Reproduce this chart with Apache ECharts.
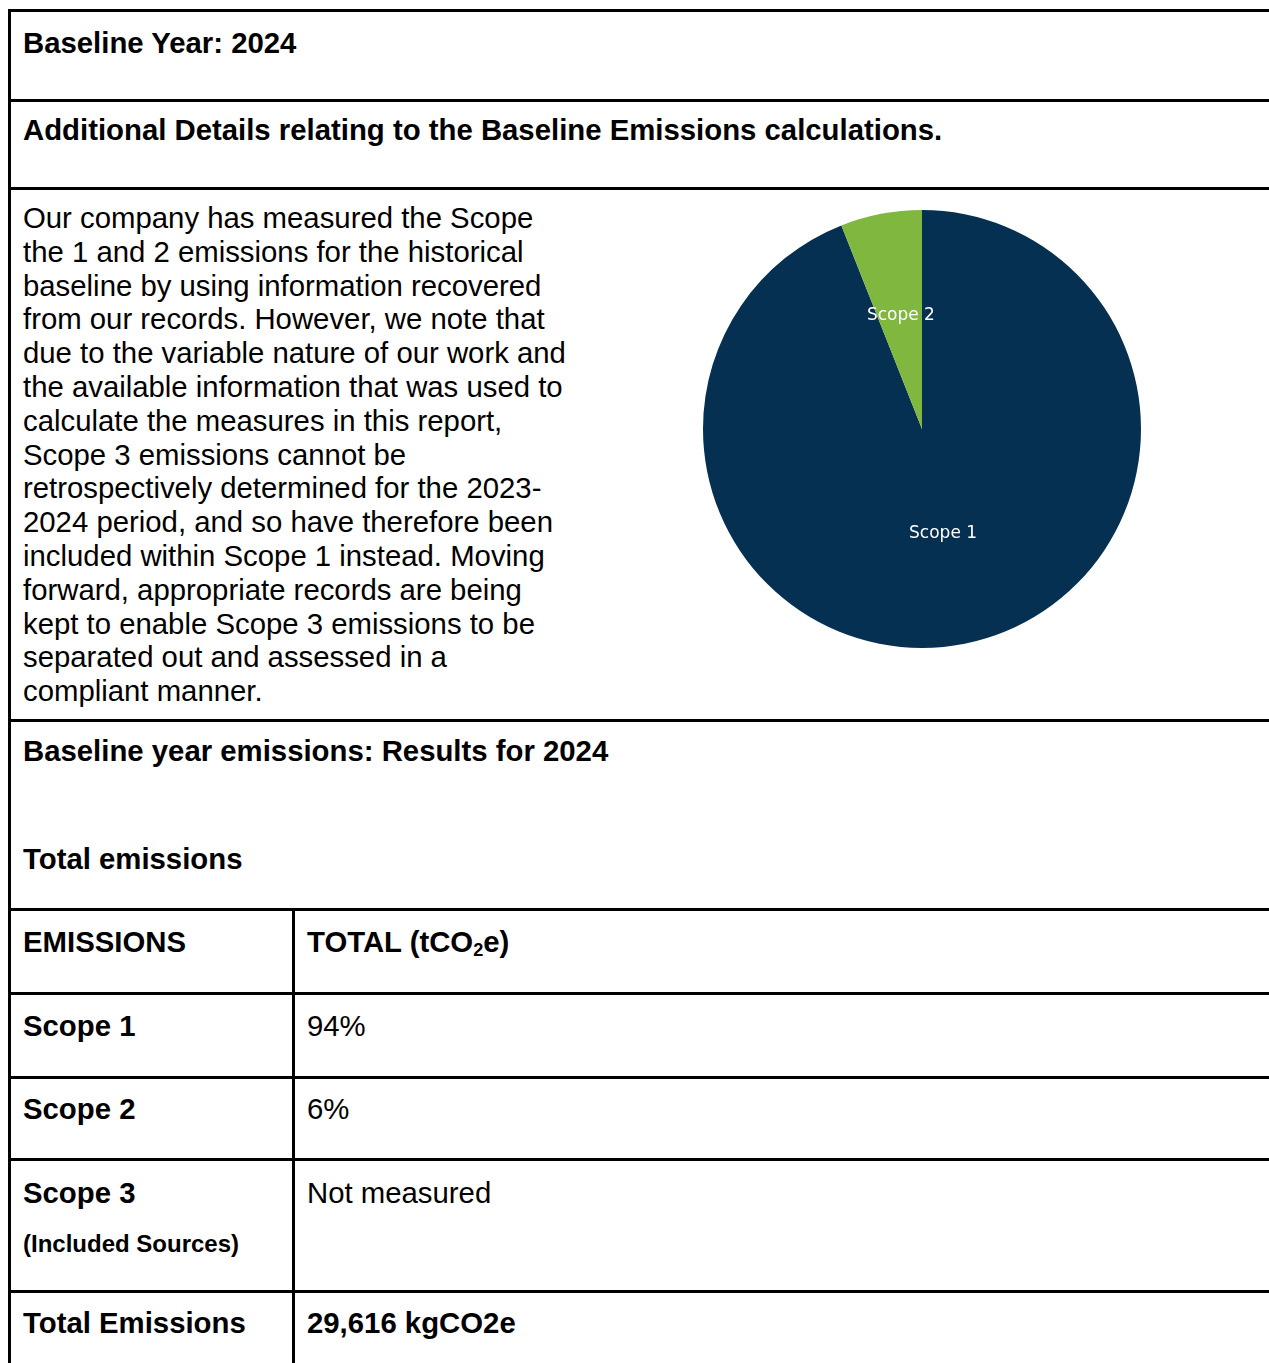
<!DOCTYPE html>
<html>
<head>
<meta charset="utf-8">
<script src="https://cdn.jsdelivr.net/npm/echarts@6/dist/echarts.min.js"></script>
<style>
  html, body { margin: 0; padding: 0; background: #ffffff; }
  #page { position: relative; width: 1269px; height: 1363px; overflow: hidden; background: #ffffff;
          font-family: "Liberation Sans", Arial, sans-serif; color: #000; }
  .hl { position: absolute; left: 8px; width: 1300px; height: 3px; background: #000; }
  .vl { position: absolute; width: 3px; background: #000; }
  .t { position: absolute; white-space: nowrap; font-size: 29.33px; line-height: 1; }
  .b { font-weight: bold; }
  #body { position: absolute; left: 23px; top: 201px; font-size: 29.33px; line-height: 33.8px; white-space: nowrap; }
  #pie { position: absolute; left: 680px; top: 190px; width: 490px; height: 490px; }
  .sub { font-size: 0.62em; position: relative; top: 0.22em; }
</style>
</head>
<body>
<div id="page">
  <div id="lines"></div>
  <div id="texts"></div>
  <div id="body"></div>
  <div id="pie"></div>
</div>
<script>
// ---- data ----
const pieCategories = ['Scope 1', 'Scope 2'];
const pieShares = [94, 6];
const pieColors = ['#063052', '#80B83F'];

const headingYear = 'Baseline Year: 2024';
const headingDetails = 'Additional Details relating to the Baseline Emissions calculations.';
const bodyLines = [
  'Our company has measured the Scope',
  'the 1 and 2 emissions for the historical',
  'baseline by using information recovered',
  'from our records. However, we note that',
  'due to the variable nature of our work and',
  'the available information that was used to',
  'calculate the measures in this report,',
  'Scope 3 emissions cannot be',
  'retrospectively determined for the 2023-',
  '2024 period, and so have therefore been',
  'included within Scope 1 instead. Moving',
  'forward, appropriate records are being',
  'kept to enable Scope 3 emissions to be',
  'separated out and assessed in a',
  'compliant manner.'
];
const headingResults = 'Baseline year emissions: Results for 2024';
const headingTotal = 'Total emissions';
const tableHeader = ['EMISSIONS', 'TOTAL (tCO<span class="sub">2</span>e)'];
const tableRowLabels = ['Scope 1', 'Scope 2', 'Scope 3', 'Total Emissions'];
const tableRowValues = ['94%', '6%', 'Not measured', '29,616 kgCO2e'];
const scope3Note = '(Included Sources)';

// ---- layout (positions only) ----
const lines = document.getElementById('lines');
[9, 99, 187, 719, 908, 992, 1076, 1158, 1290].forEach(y => {
  const d = document.createElement('div'); d.className = 'hl'; d.style.top = y + 'px'; lines.appendChild(d);
});
(function(){
  const l = document.createElement('div'); l.className = 'vl'; l.style.left = '8px'; l.style.top = '9px'; l.style.height = '1400px'; lines.appendChild(l);
  const c = document.createElement('div'); c.className = 'vl'; c.style.left = '292px'; c.style.top = '908px'; c.style.height = '500px'; lines.appendChild(c);
})();

const texts = document.getElementById('texts');
function addText(html, x, top, bold, size) {
  const d = document.createElement('div');
  d.className = 't' + (bold ? ' b' : '');
  d.style.left = x + 'px'; d.style.top = top + 'px';
  if (size) d.style.fontSize = size + 'px';
  d.innerHTML = html;
  texts.appendChild(d);
}
addText(headingYear, 23, 28.2, true);
addText(headingDetails, 23, 114.7, true);
addText(headingResults, 23, 736.2, true);
addText(headingTotal, 23, 844.2, true);
addText(tableHeader[0], 23, 927.2, true);
addText(tableHeader[1], 307, 927.2, true);
const rowTops = [1011.2, 1094.2, 1178.2, 1307.9];
tableRowLabels.forEach((lab, i) => {
  addText(lab, 23, rowTops[i], true);
  addText(tableRowValues[i], 307, rowTops[i], i === 3);
});
addText(scope3Note, 23, 1232.3, true, 24);

document.getElementById('body').innerHTML = bodyLines.join('<br>');

// ---- pie chart ----
const labelStyleKeys = ['s1', 's2'];
const chart = echarts.init(document.getElementById('pie'), null, { renderer: 'canvas' });
chart.setOption({
  animation: false,
  backgroundColor: 'transparent',
  series: [{
    type: 'pie',
    center: [242, 239],
    radius: 219,
    startAngle: 90,
    clockwise: true,
    silent: true,
    label: {
      show: true,
      position: 'inside',
      formatter: p => '{' + labelStyleKeys[p.dataIndex] + '|' + p.name + '}',
      color: '#ffffff',
      fontFamily: 'DejaVu Sans',
      fontSize: 17,
      rich: {
        s1: { color: '#ffffff', fontFamily: 'DejaVu Sans', fontSize: 17, padding: [0, 0, 12, 0] },
        s2: { color: '#ffffff', fontFamily: 'DejaVu Sans', fontSize: 17, padding: [0, 0, 6, 0] }
      }
    },
    labelLine: { show: false },
    itemStyle: { borderWidth: 0 },
    data: pieCategories.map((c, i) => ({
      name: c, value: pieShares[i],
      itemStyle: { color: pieColors[i] }
    }))
  }]
});
</script>
</body>
</html>
